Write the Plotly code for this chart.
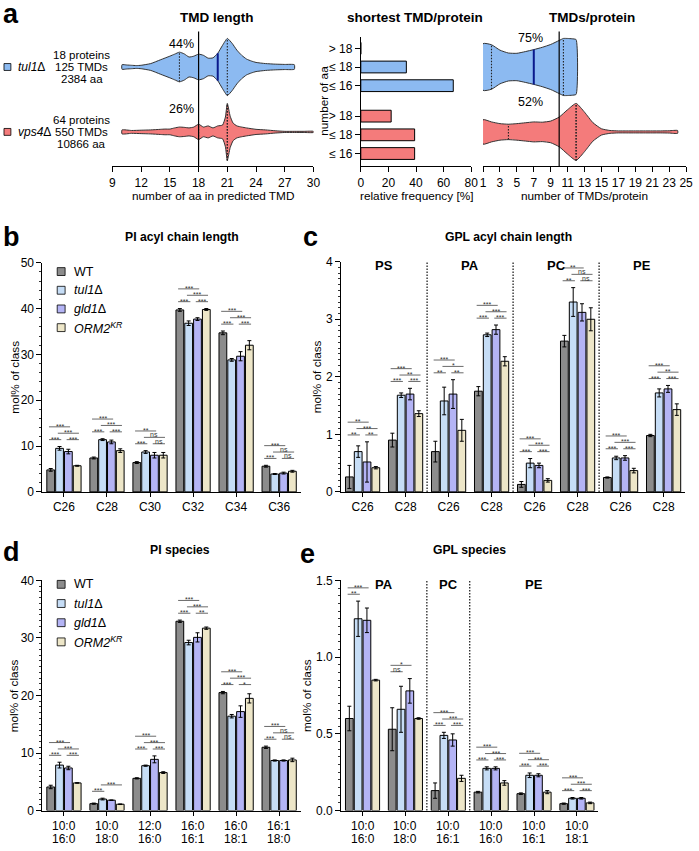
import numpy as np
import plotly.graph_objects as go

W, H = 699, 851
FONT = "Liberation Sans, Arial, Helvetica, sans-serif"

# ======================= DATA =======================
# ---- panel a ----
strains_a = ["<i>tul1</i>Δ", "<i>vps4</i>Δ"]
info_tul1 = ["18 proteins", "125 TMDs", "2384 aa"]
info_vps4 = ["64 proteins", "550 TMDs", "10866 aa"]

# TMD length violins: x = number of aa, d = relative density (peak = 100)
tmdlen_x_tul1 = [10, 10.5, 11, 11.5, 12, 13, 14, 15, 15.5, 16, 16.5, 17, 17.5, 18, 18.5, 19, 19.5, 20,
                 20.5, 21, 21.5, 22, 22.5, 23, 23.5, 24, 25, 26, 27, 28]
tmdlen_d_tul1 = [8, 7, 6, 5, 6, 12, 25, 38, 45, 52, 46, 35, 38, 45, 41, 31, 32, 48,
                 76, 100, 83, 59, 41, 28, 21, 16, 12, 10, 9, 8]
tmdlen_x_vps4 = [10, 11, 12, 13, 14, 14.5, 15, 15.5, 16, 16.5, 17, 17.5, 18, 18.5, 19, 19.5, 20, 20.5,
                 20.8, 21, 21.3, 21.6, 22, 22.5, 23, 24, 25, 26, 27, 28, 29, 30]
tmdlen_d_vps4 = [7, 5, 6, 7, 9, 10, 10, 14, 17, 16, 14, 17, 27, 17, 21, 14, 21, 24,
                 52, 100, 55, 31, 21, 17, 14, 9, 7, 4, 2, 2, 2, 2]
tmdlen_quart_tul1 = [16, 20, 21]   # q1, median, q3
tmdlen_quart_vps4 = [18, 21, 21]
tmdlen_ref = 18
tmdlen_pct = ["44%", "26%"]

# shortest TMD / protein (relative frequency %)
short_cats = ["> 18", "≤ 18", "≤ 16"]
short_tul1 = [0, 33, 67]
short_vps4 = [22, 39, 39]

# TMDs / protein violins
tmdn_x_tul1 = [1, 2, 3, 4, 5, 6, 7, 8, 9, 10, 10.5, 11, 11.5, 12]
tmdn_d_tul1 = [82, 78, 59, 49, 48, 54, 61, 69, 79, 93, 100, 100, 99, 96]
tmdn_x_vps4 = [1, 2, 3, 4, 5, 6, 7, 8, 9, 10, 11, 12, 13, 14, 15, 16, 17, 18, 19, 20, 21, 22, 23, 24]
tmdn_d_vps4 = [43, 35, 29, 27, 29, 32, 35, 34, 38, 52, 78, 100, 69, 32, 11, 5, 3.5, 3.5, 3.5, 3.5,
               3.5, 3.5, 4, 5]
tmdn_quart_tul1 = [2, 7, 10.5]
tmdn_quart_vps4 = [4, 12, 12]
tmdn_ref = 10
tmdn_pct = ["75%", "52%"]

# ---- genotypes ----
genotypes = ["WT", "<i>tul1</i>Δ", "<i>gld1</i>Δ", "<i>ORM2</i><sup><i>KR</i></sup>"]

# ---- panel b: PI acyl chain length ----
b_cats = ["C26", "C28", "C30", "C32", "C34", "C36"]
b_wt = [4.8, 7.4, 6.4, 39.7, 34.7, 5.6]
b_tul1 = [9.5, 11.4, 8.7, 36.8, 28.8, 3.9]
b_gld1 = [8.8, 10.9, 8.0, 37.7, 29.6, 4.1]
b_orm2 = [5.7, 9.0, 8.0, 39.8, 32.0, 4.5]
b_wt_sd = [0.3, 0.2, 0.2, 0.3, 0.4, 0.2]
b_tul1_sd = [0.4, 0.2, 0.3, 0.5, 0.3, 0.1]
b_gld1_sd = [0.5, 0.4, 0.6, 0.3, 1.0, 0.2]
b_orm2_sd = [0.1, 0.4, 0.6, 0.2, 1.0, 0.2]
b_sig_01 = ["***", "***", "***", "***", "***", "***"]
b_sig_23 = ["***", "***", "ns", "***", "***", "ns"]
b_sig_13 = ["***", "***", "ns", "***", "***", "ns"]
b_sig_02 = ["***", "***", "**", "***", "***", "***"]

# ---- panel c: GPL acyl chain length ----
c_classes = ["PS", "PA", "PC", "PE"]
c_class_members = [[0, 1], [2, 3], [4, 5], [6, 7]]
c_cats = ["C26", "C28", "C26", "C28", "C26", "C28", "C26", "C28"]
c_wt = [0.26, 0.90, 0.70, 1.75, 0.13, 2.62, 0.25, 0.98]
c_tul1 = [0.70, 1.68, 1.58, 2.73, 0.50, 3.30, 0.59, 1.72]
c_gld1 = [0.52, 1.70, 1.70, 2.82, 0.46, 3.12, 0.59, 1.79]
c_orm2 = [0.42, 1.36, 1.07, 2.27, 0.20, 3.00, 0.37, 1.43]
c_wt_sd = [0.20, 0.12, 0.18, 0.08, 0.05, 0.10, 0.01, 0.02]
c_tul1_sd = [0.10, 0.04, 0.24, 0.03, 0.08, 0.25, 0.03, 0.07]
c_gld1_sd = [0.35, 0.10, 0.25, 0.08, 0.04, 0.15, 0.04, 0.06]
c_orm2_sd = [0.02, 0.05, 0.19, 0.08, 0.03, 0.20, 0.04, 0.10]
c_sig_01 = ["**", "***", "**", "***", "***", "**", "***", "***"]
c_sig_23 = ["**", "***", "**", "***", "***", "ns", "***", "***"]
c_sig_13 = ["***", "**", "*", "***", "***", "ns", "***", "**"]
c_sig_02 = ["**", "***", "***", "***", "***", "**", "***", "***"]

# ---- panel d: PI species ----
d_cats_top = ["10:0", "10:0", "12:0", "16:0", "16:0", "16:1"]
d_cats_bot = ["16:0", "18:0", "16:0", "16:1", "18:1", "18:0"]
d_wt = [4.1, 1.2, 5.6, 32.9, 20.5, 11.0]
d_tul1 = [7.9, 2.0, 7.8, 29.2, 16.4, 8.7]
d_gld1 = [7.4, 1.8, 8.9, 30.1, 17.2, 8.7]
d_orm2 = [4.8, 1.1, 6.6, 31.7, 19.5, 8.8]
d_wt_sd = [0.3, 0.1, 0.1, 0.2, 0.2, 0.2]
d_tul1_sd = [0.5, 0.15, 0.1, 0.4, 0.3, 0.1]
d_gld1_sd = [0.3, 0.05, 0.6, 0.8, 1.0, 0.1]
d_orm2_sd = [0.05, 0.05, 0.15, 0.2, 0.8, 0.3]
d_sig_01 = ["***", "***", "***", "***", "***", "***"]
d_sig_23 = ["***", "", "***", "**", "*", "ns"]
d_sig_13 = ["***", "***", "***", "***", "***", "ns"]
d_sig_02 = ["***", "", "***", "***", "***", "***"]

# ---- panel e: GPL species ----
e_classes = ["PA", "PC", "PE"]
e_class_members = [[0, 1], [2], [3, 4, 5]]
e_cats_top = ["10:0", "10:0", "10:0", "10:0", "10:0", "10:0"]
e_cats_bot = ["16:0", "18:0", "16:1", "16:0", "16:1", "18:1"]
e_wt = [0.60, 0.53, 0.13, 0.12, 0.11, 0.045]
e_tul1 = [1.25, 0.66, 0.49, 0.275, 0.23, 0.08]
e_gld1 = [1.24, 0.78, 0.46, 0.275, 0.23, 0.08]
e_orm2 = [0.85, 0.60, 0.21, 0.18, 0.12, 0.05]
e_wt_sd = [0.08, 0.14, 0.05, 0.005, 0.005, 0.004]
e_tul1_sd = [0.115, 0.15, 0.02, 0.01, 0.015, 0.005]
e_gld1_sd = [0.08, 0.08, 0.04, 0.01, 0.01, 0.005]
e_orm2_sd = [0.005, 0.005, 0.02, 0.015, 0.01, 0.005]
e_sig_01 = ["**", "ns", "***", "***", "***", "***"]
e_sig_23 = ["", "", "***", "***", "***", "***"]
e_sig_13 = ["", "", "***", "***", "***", "***"]
e_sig_02 = ["***", "*", "***", "***", "***", "***"]

# ======================= STYLE =======================
GCOL = ["#8c8c8c", "#c6ddf6", "#b4b4f5", "#ede6c8"]
BLUE = "#8cbaf1"
RED = "#f47b7b"
BG, BGG = 0.18, 0.12
DOT = "1.5px,1.5px"
T_A = 13.5      # panel a titles
T_B = 12.2      # panel b-e titles
AXT = 11.8      # axis titles


def PX(x):
    return x / W


def PY(y):
    return 1 - y / H


def refs(n):
    return ("x" if n == 1 else f"x{n}"), ("y" if n == 1 else f"y{n}")


def lnames(n):
    return ("xaxis" if n == 1 else f"xaxis{n}"), ("yaxis" if n == 1 else f"yaxis{n}")


AX = dict(showline=True, linecolor="black", linewidth=1, ticks="outside", ticklen=4, tickwidth=1,
          tickcolor="black", showgrid=False, zeroline=False,
          tickfont=dict(family=FONT, size=12, color="black"))

fig = go.Figure()
shapes = []
annots = []
layout_axes = {}


def text(x, y, s, size=12, bold=False, xanchor="center", yanchor="middle", angle=0, xref="paper",
         yref="paper", color="black", **kw):
    if bold:
        s = f"<b>{s}</b>"
    annots.append(dict(x=x, y=y, xref=xref, yref=yref, text=s, showarrow=False, xanchor=xanchor,
                       yanchor=yanchor, textangle=angle,
                       font=dict(family=FONT, size=size, color=color), **kw))


# ======================= PANEL a =======================
ROW_PX = 66.0          # px between violin rows
VH = 29.0 / ROW_PX     # max half width (row units)
ylo, yhi = -35 / ROW_PX, 102 / ROW_PX


def violin(n, xs, dens, center, color, quart, medcol):
    xa, ya = refs(n)
    xs = np.asarray(xs, float)
    hw = np.asarray(dens, float) / 100.0 * VH
    px = np.concatenate([xs, xs[::-1], xs[:1]])
    py = np.concatenate([center + hw, (center - hw)[::-1], [center + hw[0]]])
    fig.add_trace(go.Scatter(x=px, y=py, mode="lines", fill="toself", fillcolor=color,
                             line=dict(color="#333333", width=1, shape="spline", smoothing=0.5),
                             xaxis=xa, yaxis=ya, hoverinfo="skip", showlegend=False))
    for k, q in enumerate(quart):
        h = float(np.interp(q, xs, hw))
        if k == 1 and medcol:
            ln = dict(color=medcol, width=2)
        else:
            ln = dict(color="#222222", width=1.1, dash=DOT)
        fig.add_trace(go.Scatter(x=[q, q], y=[center - h, center + h], mode="lines", line=ln,
                                 xaxis=xa, yaxis=ya, hoverinfo="skip", showlegend=False))


# a1: TMD length
violin(1, tmdlen_x_tul1, tmdlen_d_tul1, 1, BLUE, tmdlen_quart_tul1, "#0a1a8c")
violin(1, tmdlen_x_vps4, tmdlen_d_vps4, 0, RED, tmdlen_quart_vps4, None)
shapes.append(dict(type="line", xref="x", yref="y domain", x0=tmdlen_ref, x1=tmdlen_ref, y0=0, y1=1,
                   line=dict(color="black", width=1.2)))
xn, yn = lnames(1)
layout_axes[xn] = dict(AX, domain=[PX(111), PX(315)], range=[9, 30], tick0=9, dtick=3, ticklen=5,
                       anchor="y")
layout_axes[yn] = dict(domain=[PY(162), PY(25)], range=[ylo, yhi], visible=False, anchor="x")
for i, p in enumerate(tmdlen_pct):
    text(tmdlen_ref, PY(38 + 66 * i), p, size=12.5, xref="x", xanchor="right", xshift=-3)

# a2: shortest TMD / protein (horizontal bars)
RED_OFF = 3.63
rows = [i for i in range(3)] + [i + RED_OFF for i in range(3)]
fig.add_trace(go.Bar(x=short_tul1 + short_vps4, y=rows, orientation="h", width=0.63,
                     marker=dict(color=[BLUE] * 3 + [RED] * 3, line=dict(color="black", width=1)),
                     xaxis="x2", yaxis="y2", showlegend=False, hoverinfo="skip"))
layout_axes["xaxis2"] = dict(AX, domain=[PX(363), PX(475)], range=[0, 80], dtick=20, ticklen=5,
                             anchor="y2")
layout_axes["yaxis2"] = dict(AX, domain=[PY(162), PY(30)], range=[6.316, -0.632], tickvals=rows,
                             ticktext=short_cats * 2, ticklen=5, anchor="x2")

# a3: TMDs / protein
violin(3, tmdn_x_tul1, tmdn_d_tul1, 1, BLUE, tmdn_quart_tul1, "#0a1a8c")
violin(3, tmdn_x_vps4, tmdn_d_vps4, 0, RED, tmdn_quart_vps4, None)
shapes.append(dict(type="line", xref="x3", yref="y3 domain", x0=tmdn_ref, x1=tmdn_ref, y0=0, y1=1,
                   line=dict(color="black", width=1.2)))
layout_axes["xaxis3"] = dict(AX, domain=[PX(487), PX(693)], range=[1, 25], tick0=1, dtick=2,
                             ticklen=5, anchor="y3", ticklabeloverflow="allow")
layout_axes["yaxis3"] = dict(domain=[PY(162), PY(25)], range=[ylo, yhi], visible=False, anchor="x3")
for i, p in enumerate(tmdn_pct):
    text(tmdn_ref, PY(32 + 65 * i), p, size=12.5, xref="x3", xanchor="right", xshift=-14)

# panel a text
text(PX(8), PY(7), "a", size=27, bold=True)
text(PX(217), PY(10.5), "TMD length", size=T_A, bold=True)
text(PX(418), PY(10.5), "shortest TMD/protein", size=T_A, bold=True)
text(PX(598), PY(10.5), "TMDs/protein", size=T_A, bold=True)
text(PX(213), PY(192), "number of aa in predicted TMD", size=AXT)
text(PX(419), PY(192), "relative frequency [%]", size=AXT)
text(PX(590), PY(192), "number of TMDs/protein", size=AXT)
text(PX(326), PY(95), "number of aa", size=AXT, angle=-90)
for i, (lab, info, col) in enumerate([(strains_a[0], info_tul1, BLUE), (strains_a[1], info_vps4, RED)]):
    yc = 61 + 66 * i
    shapes.append(dict(type="rect", xref="paper", yref="paper", x0=PX(1), x1=PX(8),
                       y0=PY(yc + 3.5), y1=PY(yc - 3.5), fillcolor=col,
                       line=dict(color="black", width=0.8)))
    text(PX(13), PY(yc), lab, size=12, xanchor="left")
    for j, t in enumerate(info):
        text(PX(80), PY(yc - 12 + 12 * j), t, size=11.5)


# ======================= BAR PANELS =======================
PAIRS = [(0, 1), (2, 3), (1, 3), (0, 2)]
OFF = [-(1 - BG) / 2 + (k + 0.5) * (1 - BG) / 4 for k in range(4)]


def bar_panel(n, cats, vals, sds, sigs, dom_x, dom_y, yrange, ydtick, yminor, two_line=None):
    xa, ya = refs(n)
    idx = list(range(len(cats)))
    for k in range(4):
        fig.add_trace(go.Bar(x=idx, y=vals[k], name=genotypes[k],
                             error_y=dict(type="data", array=sds[k], thickness=1, width=2,
                                          color="black"),
                             marker=dict(color=GCOL[k], line=dict(color="black", width=1)),
                             xaxis=xa, yaxis=ya, showlegend=False, hoverinfo="skip"))
    xn, yn = lnames(n)
    xdict = dict(AX, domain=[PX(dom_x[0]), PX(dom_x[1])], range=[-0.5, len(cats) - 0.5],
                 tickvals=idx, ticktext=cats, ticklen=4, anchor=ya,
                 tickfont=dict(family=FONT, size=12, color="black"))
    if two_line:
        xdict["showticklabels"] = False
        for c in idx:
            text(c, PY(dom_y[1] + 15.5), two_line[0][c], size=12, xref=xa)
            text(c, PY(dom_y[1] + 29), two_line[1][c], size=12, xref=xa)
    layout_axes[xn] = xdict
    layout_axes[yn] = dict(AX, domain=[PY(dom_y[1]), PY(dom_y[0])], range=yrange, dtick=ydtick,
                           ticklen=5, anchor=xa,
                           minor=dict(dtick=yminor, ticks="outside", ticklen=2.5, tickcolor="black",
                                      tickwidth=0.8),
                           tickfont=dict(family=FONT, size=12, color="black"))
    pxu = (dom_y[1] - dom_y[0]) / (yrange[1] - yrange[0])
    for c in idx:
        top = max(vals[k][c] + sds[k][c] for k in range(4))
        has13 = bool(sigs[2][c])
        for p, (i, j) in enumerate(PAIRS):
            lab = sigs[p][c]
            if not lab:
                continue
            level = 0 if p < 2 else (1 if p == 2 else (2 if has13 else 1))
            yv = top + (7 + 6.5 * level) / pxu
            x0 = c + OFF[i] - 0.04
            x1 = c + OFF[j] + 0.04
            shapes.append(dict(type="line", xref=xa, yref=ya, x0=x0, x1=x1, y0=yv, y1=yv,
                               line=dict(color="#444444", width=0.8)))
            annots.append(dict(xref=xa, yref=ya, x=(x0 + x1) / 2, y=yv, text=lab, showarrow=False,
                               yanchor="bottom", yshift=-4 if "*" in lab else -2, borderpad=0,
                               font=dict(family=FONT, size=7, color="#333333")))


def legend_block(x0, y0, step):
    for k, g in enumerate(genotypes):
        yc = y0 + step * k
        shapes.append(dict(type="rect", xref="paper", yref="paper", x0=PX(55), x1=PX(63),
                           y0=PY(yc + 4), y1=PY(yc - 4), fillcolor=GCOL[k],
                           line=dict(color="black", width=0.8)))
        text(PX(x0), PY(yc), g, size=12.5, xanchor="left")


def class_headers(n, classes, members):
    xa, ya = refs(n)
    for cl, mem in zip(classes, members):
        text(float(np.mean(mem)), 0.983, cl, size=13, bold=True, xref=xa, yref=f"{ya} domain")
    for mem in members[:-1]:
        xb = mem[-1] + 0.5
        shapes.append(dict(type="line", xref=xa, yref=f"{ya} domain", x0=xb, x1=xb, y0=0, y1=1,
                           line=dict(color="#222222", width=1.3, dash=DOT)))


# b
bar_panel(4, b_cats, [b_wt, b_tul1, b_gld1, b_orm2], [b_wt_sd, b_tul1_sd, b_gld1_sd, b_orm2_sd],
          [b_sig_01, b_sig_23, b_sig_13, b_sig_02], (40, 302), (260, 493), [0, 50], 10, 2)
legend_block(70, 269, 19)
text(PX(9), PY(234), "b", size=27, bold=True)
text(PX(182), PY(233.5), "PI acyl chain length", size=T_B, bold=True)
text(PX(12), PY(376), "mol% of class", size=AXT, angle=-90)

# c
bar_panel(5, c_cats, [c_wt, c_tul1, c_gld1, c_orm2], [c_wt_sd, c_tul1_sd, c_gld1_sd, c_orm2_sd],
          [c_sig_01, c_sig_23, c_sig_13, c_sig_02], (343, 692), (259, 493), [0, 4], 1, 0.1)
class_headers(5, c_classes, c_class_members)
text(PX(312), PY(234), "c", size=27, bold=True)
text(PX(513), PY(233.5), "GPL acyl chain length", size=T_B, bold=True)
text(PX(318), PY(376), "mol% of class", size=AXT, angle=-90)

# d
bar_panel(6, d_cats_top, [d_wt, d_tul1, d_gld1, d_orm2], [d_wt_sd, d_tul1_sd, d_gld1_sd, d_orm2_sd],
          [d_sig_01, d_sig_23, d_sig_13, d_sig_02], (40, 302), (583, 817), [0, 40], 10, 1,
          two_line=(d_cats_top, d_cats_bot))
legend_block(70, 587, 19.5)
text(PX(9), PY(554), "d", size=27, bold=True)
text(PX(180), PY(552.5), "PI species", size=T_B, bold=True)
text(PX(12), PY(700), "mol% of class", size=AXT, angle=-90)

# e
bar_panel(7, e_cats_top, [e_wt, e_tul1, e_gld1, e_orm2], [e_wt_sd, e_tul1_sd, e_gld1_sd, e_orm2_sd],
          [e_sig_01, e_sig_23, e_sig_13, e_sig_02], (343, 604), (583, 817), [0, 1.5], 0.5, 0.05,
          two_line=(e_cats_top, e_cats_bot))
class_headers(7, e_classes, e_class_members)
layout_axes["yaxis7"]["tickformat"] = ".1f"
text(PX(309), PY(556), "e", size=27, bold=True)
text(PX(473), PY(552.5), "GPL species", size=T_B, bold=True)
text(PX(309), PY(700), "mol% of class", size=AXT, angle=-90)

fig.update_layout(
    width=W, height=H, margin=dict(l=0, r=0, t=0, b=0), autosize=False,
    paper_bgcolor="white", plot_bgcolor="white",
    barmode="group", bargap=BG, bargroupgap=BGG,
    showlegend=False, shapes=shapes, annotations=annots,
    font=dict(family=FONT, color="black"), hovermode=False,
    **layout_axes,
)

fig.write_html(
    "out.html",
    config={"displayModeBar": False, "staticPlot": True},
    post_script="document.body.style.margin='0';document.body.style.padding='0';"
                "document.documentElement.style.overflow='hidden';window.scrollTo(0,0);",
)
